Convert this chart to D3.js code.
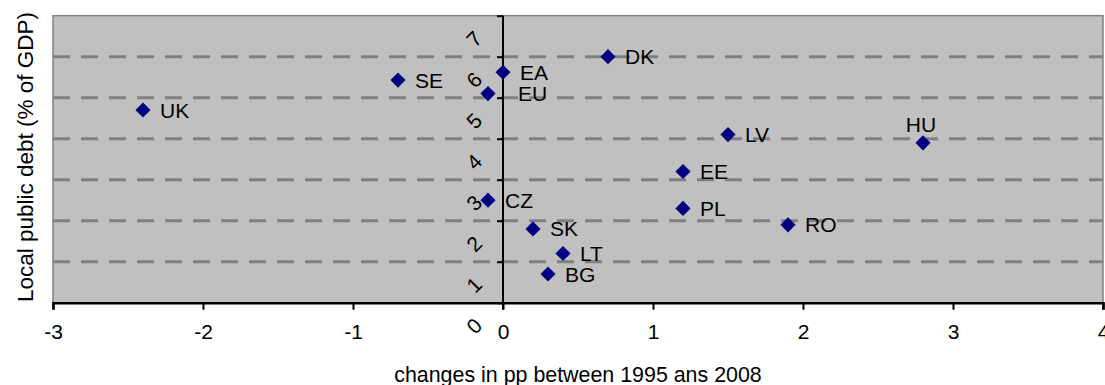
<!DOCTYPE html>
<html>
<head>
<meta charset="utf-8">
<script src="https://cdn.jsdelivr.net/npm/d3@7"></script>
<style>
  body { margin: 0; background: #fff; }
  text { font-family: "Liberation Sans", Arial, sans-serif; fill: #000; }
</style>
</head>
<body>
<svg id="chart" width="1105" height="385"></svg>
<script>
"use strict";

// Countries and their values
const countries = ["UK", "SE", "EA", "EU", "DK", "CZ", "SK", "LT", "BG", "HU", "LV", "EE", "PL", "RO"];
const changes   = [-2.4, -0.7, 0.0, -0.1, 0.7, -0.1, 0.2, 0.4, 0.3, 2.8, 1.5, 1.2, 1.2, 1.9];
const debt      = [4.7, 5.43, 5.62, 5.1, 6.0, 2.5, 1.8, 1.2, 0.7, 3.9, 4.1, 3.2, 2.3, 1.9];

const xTicks = [-3, -2, -1, 0, 1, 2, 3, 4];
const yTicks = [0, 1, 2, 3, 4, 5, 6, 7];

const svg = d3.select("#chart");

const x = d3.scaleLinear().domain([-3, 4]).range([53, 1103]);
const y = d3.scaleLinear().domain([0, 7]).range([302.7, 15.7]);

// plot background
svg.append("rect")
    .attr("x", x(-3))
    .attr("y", y(7))
    .attr("width", x(4) - x(-3))
    .attr("height", y(0) - y(7))
    .attr("fill", "#c0c0c0")
    .attr("stroke", "#808080")
    .attr("stroke-width", 1.5);

// dashed gridlines
svg.selectAll(".grid")
    .data(yTicks.filter(d => d > 0 && d < 7))
    .enter()
    .append("line")
    .attr("class", "grid")
    .attr("x1", x(-3))
    .attr("x2", x(4))
    .attr("y1", d => y(d))
    .attr("y2", d => y(d))
    .attr("stroke", "#808080")
    .attr("stroke-width", 3)
    .attr("stroke-dasharray", "17,11");

// x axis along the bottom
const xAxis = svg.append("g")
    .attr("transform", `translate(0,${y(0)})`)
    .call(d3.axisBottom(x).tickValues(xTicks).tickSize(7).tickPadding(14).tickFormat(d => String(d)));
xAxis.select(".domain").attr("stroke", "#000").attr("stroke-width", 2.5);
xAxis.selectAll(".tick line").attr("stroke", "#000").attr("stroke-width", 2);
xAxis.selectAll(".tick text")
    .attr("font-size", 21)
    .style("font-family", "'Liberation Sans', Arial, sans-serif");

// y axis through x = 0
const yAxis = svg.append("g")
    .attr("transform", `translate(${x(0)},0)`)
    .call(d3.axisLeft(y).tickValues(yTicks).tickSize(6).tickFormat(""));
yAxis.select(".domain").attr("stroke", "#000").attr("stroke-width", 2).attr("d", `M0,${y(7)}V${y(0) + 7}`);
yAxis.selectAll(".tick line").attr("stroke", "#000").attr("stroke-width", 2);

// rotated y tick labels
svg.selectAll(".ylab")
    .data(yTicks)
    .enter()
    .append("text")
    .attr("class", "ylab")
    .attr("font-size", 21)
    .attr("text-anchor", "middle")
    .attr("dominant-baseline", "central")
    .attr("transform", d => `translate(${x(0) - 29},${y(d) + 23}) rotate(-45)`)
    .text(d => d);

// markers
const points = countries.map((c, i) => ({ name: c, x: changes[i], y: debt[i] }));

svg.selectAll(".pt")
    .data(points)
    .enter()
    .append("path")
    .attr("class", "pt")
    .attr("d", d3.symbol().type(d3.symbolSquare).size(115))
    .attr("transform", d => `translate(${x(d.x)},${y(d.y)}) rotate(45)`)
    .attr("fill", "#000080");

// labels: most sit to the right, a couple are moved
const labelShift = { EU: [30, 0], HU: [-2, -18] };

svg.selectAll(".lab")
    .data(points)
    .enter()
    .append("text")
    .attr("class", "lab")
    .attr("font-size", 21)
    .attr("text-anchor", d => d.name === "HU" ? "middle" : "start")
    .attr("x", d => x(d.x) + (labelShift[d.name] ? labelShift[d.name][0] : 17))
    .attr("y", d => y(d.y) + 7.5 + (labelShift[d.name] ? labelShift[d.name][1] : 0))
    .text(d => d.name);

// axis titles
svg.append("text")
    .attr("font-size", 21.4)
    .attr("text-anchor", "middle")
    .attr("x", 578)
    .attr("y", 382)
    .text("changes in pp between 1995 ans 2008");

svg.append("text")
    .attr("font-size", 22.5)
    .attr("text-anchor", "middle")
    .attr("transform", "translate(33,157) rotate(-90)")
    .text("Local public debt (% of GDP)");
</script>
</body>
</html>
